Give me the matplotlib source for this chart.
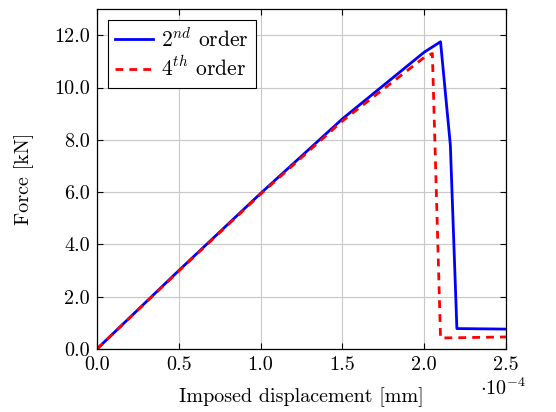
import matplotlib
matplotlib.use("Agg")
import matplotlib.pyplot as plt
from matplotlib.ticker import FuncFormatter

# data (displacement in mm, force in kN)
disp_2nd = [0.0, 0.5e-4, 1.0e-4, 1.5e-4, 2.0e-4, 2.1e-4, 2.16e-4, 2.2e-4, 2.5e-4]
force_2nd = [0.0, 3.0, 5.95, 8.8, 11.35, 11.75, 7.8, 0.78, 0.76]

disp_4th = [0.0, 0.5e-4, 1.0e-4, 1.5e-4, 2.0e-4, 2.05e-4, 2.1e-4, 2.5e-4]
force_4th = [0.0, 2.98, 5.92, 8.72, 11.15, 11.3, 0.42, 0.46]

xticks = [0.0, 0.5e-4, 1.0e-4, 1.5e-4, 2.0e-4, 2.5e-4]
yticks = [0.0, 2.0, 4.0, 6.0, 8.0, 10.0, 12.0]

plt.rcParams['font.family'] = 'serif'
plt.rcParams['font.serif'] = ['cmr10', 'DejaVu Serif']
plt.rcParams['mathtext.fontset'] = 'cm'
plt.rcParams['axes.unicode_minus'] = False

fs = 14.5

fig = plt.figure(figsize=(5.56, 4.12), dpi=100)
ax = fig.add_axes([0.1745, 0.153, 0.7355, 0.825])

ax.plot(disp_2nd, force_2nd, color='#0000ff', lw=2.0, label='$2^{nd}$ order')
ax.plot(disp_4th, force_4th, color='#ff0000', lw=2.0, ls=(0, (2.8, 2.2)), label='$4^{th}$ order')

ax.set_xlim(0, 2.5e-4)
ax.set_ylim(0, 13.0)
ax.set_xticks(xticks)
ax.set_yticks(yticks)
ax.xaxis.set_major_formatter(FuncFormatter(lambda v, p: '%.1f' % (v / 1e-4)))
ax.yaxis.set_major_formatter(FuncFormatter(lambda v, p: '%.1f' % v))
ax.tick_params(direction='in', top=True, right=True, length=4, width=0.8,
               labelsize=fs, pad=5)
ax.grid(True, color='#c8c8c8', lw=0.8)
ax.set_axisbelow(True)
for s in ax.spines.values():
    s.set_linewidth(0.9)

ax.set_xlabel('Imposed displacement [mm]', fontsize=fs)
ax.set_ylabel('Force [kN]', fontsize=fs)
ax.xaxis.set_label_coords(0.5, -0.112)
ax.yaxis.set_label_coords(-0.155, 0.5)
ax.text(0.936, -0.135, r'$\cdot 10^{-4}$', transform=ax.transAxes, fontsize=fs,
        ha='left', va='baseline')

leg = ax.legend(loc='upper left', fontsize=15.5, frameon=True, fancybox=False,
                edgecolor='black', framealpha=1, handlelength=1.75,
                borderaxespad=0.5, borderpad=0.35, labelspacing=0.25,
                handletextpad=0.35)
leg.get_frame().set_linewidth(0.8)

fig.savefig('out.png', dpi=100)
